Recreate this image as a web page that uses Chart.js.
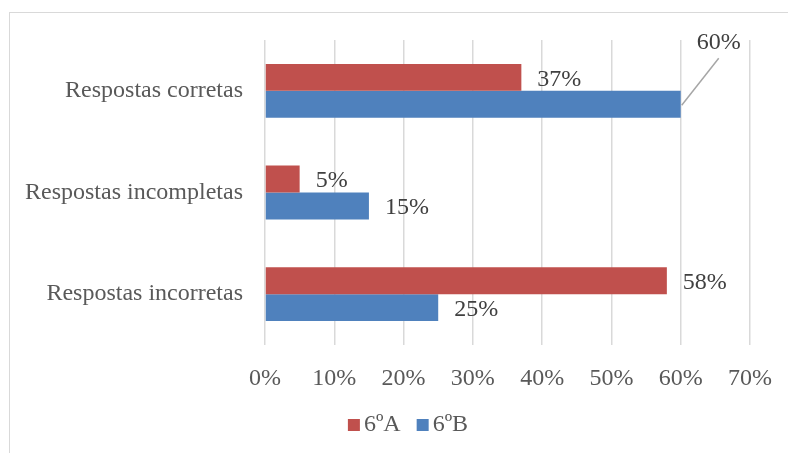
<!DOCTYPE html>
<html>
<head>
<meta charset="utf-8">
<script src="https://cdn.jsdelivr.net/npm/chart.js@4"></script>
<style>
  body { margin: 0; background: #fff; }
  #moldura { position: absolute; left: 9px; top: 12px; width: 800px; height: 460px;
             border-left: 1.5px solid #d9d9d9; border-top: 1.5px solid #d9d9d9; }
  #wrap { position: absolute; left: 0; top: 0; width: 788px; height: 453px; }
</style>
</head>
<body>
<div id="moldura"></div>
<div id="wrap"><canvas id="grafico" width="788" height="453"></canvas></div>
<script>
// dados
const categorias = ['Respostas corretas', 'Respostas incompletas', 'Respostas incorretas'];
const turmaA = [37, 5, 58];   // 6ºA
const turmaB = [60, 15, 25];  // 6ºB
const ticksX = [0, 10, 20, 30, 40, 50, 60, 70];

const fonte = '"Liberation Serif", "Times New Roman", serif';

// rótulos de valor ao lado das barras
const rotulos = {
    id: 'rotulos',
    afterDatasetsDraw(chart) {
        const ctx = chart.ctx;
        ctx.save();
        ctx.font = '24px ' + fonte;
        ctx.fillStyle = '#404040';
        ctx.textBaseline = 'middle';
        chart.data.datasets.forEach((ds, i) => {
            const meta = chart.getDatasetMeta(i);
            meta.data.forEach((bar, j) => {
                const txt = ds.data[j] + '%';
                if (i == 1 && j == 0) {
                    // rótulo deslocado com linha de chamada
                    ctx.strokeStyle = '#a6a6a6';
                    ctx.lineWidth = 1.5;
                    ctx.beginPath();
                    ctx.moveTo(bar.x + 1, bar.y + 1);
                    ctx.lineTo(bar.x + 38, bar.y - 46);
                    ctx.stroke();
                    ctx.textAlign = 'center';
                    ctx.fillText(txt, bar.x + 38, bar.y - 62);
                } else {
                    ctx.textAlign = 'left';
                    ctx.fillText(txt, bar.x + 16, bar.y + 2);
                }
            });
        });
        ctx.restore();
    }
};

// legenda desenhada à mão (quadrado pequeno colado ao texto)
const legenda = {
    id: 'legenda',
    afterDraw(chart) {
        const ctx = chart.ctx;
        ctx.save();
        ctx.font = '24px ' + fonte;
        ctx.textBaseline = 'middle';
        ctx.textAlign = 'left';
        const itens = chart.data.datasets.map(ds => ({
            txt: ds.label, cor: ds.backgroundColor, w: ctx.measureText(ds.label).width
        }));
        const total = itens.reduce((s, it) => s + 12 + 4 + it.w, 0) + 16 * (itens.length - 1);
        let x = chart.width / 2 + 14 - total / 2;
        const y = 425;
        itens.forEach(it => {
            ctx.fillStyle = it.cor;
            ctx.fillRect(x, y - 6, 12, 12);
            ctx.fillStyle = '#595959';
            ctx.fillText(it.txt, x + 16, y);
            x += 16 + it.w + 16;
        });
        ctx.restore();
    }
};

const ctx = document.getElementById('grafico').getContext('2d');
new Chart(ctx, {
    type: 'bar',
    data: {
        labels: categorias,
        datasets: [{
            label: '6ºA',
            data: turmaA,
            backgroundColor: '#C0504D',
            categoryPercentage: 0.53,
            barPercentage: 1
        }, {
            label: '6ºB',
            data: turmaB,
            backgroundColor: '#4F81BD',
            categoryPercentage: 0.53,
            barPercentage: 1
        }]
    },
    options: {
        indexAxis: 'y',
        responsive: false,
        animation: false,
        layout: { padding: { left: 0, right: 38, top: 40, bottom: 48 } },
        scales: {
            x: {
                min: 0,
                max: 70,
                afterBuildTicks: (s) => { s.ticks = ticksX.map(v => ({ value: v })); },
                afterFit: (s) => { s.height = 60; s.paddingRight = 0; s.paddingLeft = 0; },
                grid: { color: '#d9d9d9', lineWidth: 1.5, drawTicks: false },
                border: { display: false },
                ticks: {
                    padding: 19,
                    color: '#595959',
                    font: { family: fonte, size: 24 },
                    callback: (v) => v + '%'
                }
            },
            y: {
                afterFit: (s) => { s.width = 265; },
                grid: { display: false, drawTicks: false },
                border: { display: false },
                ticks: {
                    padding: 22,
                    color: '#595959',
                    font: { family: fonte, size: 24 }
                }
            }
        },
        plugins: {
            legend: { display: false },
            tooltip: { enabled: false }
        }
    },
    plugins: [rotulos, legenda]
});
</script>
</body>
</html>
